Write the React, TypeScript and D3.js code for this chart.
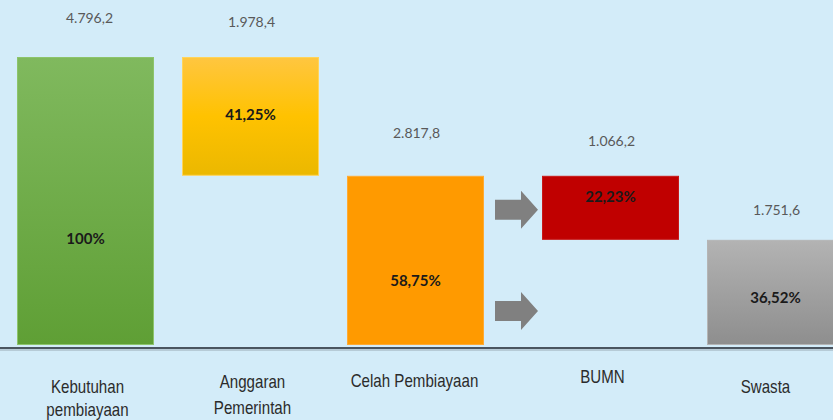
import React from "react";
import * as d3 from "d3";

const categories = ["Kebutuhan pembiayaan", "Anggaran Pemerintah", "Celah Pembiayaan", "BUMN", "Swasta"];
const categoryLines = [["Kebutuhan", "pembiayaan"], ["Anggaran", "Pemerintah"], ["Celah Pembiayaan"], ["BUMN"], ["Swasta"]];
const values = [4796.2, 1978.4, 2817.8, 1066.2, 1751.6];
const valueLabels = ["4.796,2", "1.978,4", "2.817,8", "1.066,2", "1.751,6"];
const percentLabels = ["100%", "41,25%", "58,75%", "22,23%", "36,52%"];
// waterfall: floating bars
const barBases = [0, 4796.2 - 1978.4, 0, 1751.6, 0];

// layout config (not data)
const pctFrac = [0.63, 0.49, 0.62, 0.33, 0.55];
const valDy = [-39, -35, -43, -35, -30];
const catBaselines = [[393, 416], [388, 414], [387], [383], [393]];
const catDx = [2, 2, -1, -8, -10];

const W = 833;
const H = 420;
const baseY = 345;

export default function App() {
  const y = d3.scaleLinear().domain([0, 4796.2]).range([baseY, 57]);
  const bw = 137;
  const x = d3.scaleBand<string>().domain(categories).range([17, 17 + 4 * 165 + bw]).paddingInner(28 / 165).paddingOuter(0);
  const gapAfter = 30;
  const bx = (i: number) => (x(categories[i]) as number) + (i >= 3 ? gapAfter : 0);

  const fills = ["url(#gGreen)", "url(#gYellow)", "#FF9A00", "#C00000", "url(#gGray)"];
  const strokes = ["#8DC46C", "#FFD45A", "#FFAA33", "#C81818", "#B5B5B5"];

  const arrowPath = (x0: number, cy: number) => {
    const p = d3.path();
    p.moveTo(x0, cy - 10);
    p.lineTo(x0 + 26, cy - 10);
    p.lineTo(x0 + 26, cy - 19);
    p.lineTo(x0 + 43, cy);
    p.lineTo(x0 + 26, cy + 19);
    p.lineTo(x0 + 26, cy + 10);
    p.lineTo(x0, cy + 10);
    p.closePath();
    return p.toString();
  };

  const bumnTop = y(barBases[3] + values[3]);
  const bumnBot = y(barBases[3]);
  const arrowX = bx(2) + bw + 11;

  return (
    <svg width={W} height={H} style={{ position: "absolute", left: 0, top: 0 }} xmlns="http://www.w3.org/2000/svg">
      <defs>
        <linearGradient id="gGreen" x1="0" y1="0" x2="0" y2="1">
          <stop offset="0" stopColor="#80B95E" />
          <stop offset="1" stopColor="#5F9F35" />
        </linearGradient>
        <linearGradient id="gYellow" x1="0" y1="0" x2="0" y2="1">
          <stop offset="0" stopColor="#FFC640" />
          <stop offset="0.5" stopColor="#FFC200" />
          <stop offset="1" stopColor="#EBB800" />
        </linearGradient>
        <linearGradient id="gGray" x1="0" y1="0" x2="0" y2="1">
          <stop offset="0" stopColor="#B3B3B3" />
          <stop offset="1" stopColor="#8E8E8E" />
        </linearGradient>
      </defs>
      <rect x={0} y={0} width={W} height={H} fill="#D3ECF9" />

      {values.map((v, i) => {
        const top = y(barBases[i] + v);
        const bot = y(barBases[i]);
        return (
          <rect key={"b" + i} x={bx(i) + 0.5} y={top + 0.5} width={bw - 1} height={bot - top - 1}
            fill={fills[i]} stroke={strokes[i]} strokeWidth={1} />
        );
      })}

      <path d={arrowPath(arrowX, (bumnTop + bumnBot) / 2 + 2)} fill="#808080" />
      <path d={arrowPath(arrowX, baseY - 34)} fill="#808080" />

      <line x1={0} x2={W} y1={348} y2={348} stroke="#4A5560" strokeWidth={2} />
      <line x1={0} x2={W} y1={350} y2={350} stroke="#9AAAB5" strokeWidth={1} />

      {values.map((v, i) => {
        const top = y(barBases[i] + v);
        const bot = y(barBases[i]);
        const cx = bx(i) + bw / 2;
        return (
          <g key={"t" + i}>
            <text x={cx + (i === 0 ? 4 : 1)} y={top + valDy[i]} dy="0.35em" textAnchor="middle"
              fontFamily="Lato, 'Open Sans', sans-serif" fontSize={14} fill="#595959">{valueLabels[i]}</text>
            <text x={cx} y={top + (bot - top) * pctFrac[i]} dy="0.35em" textAnchor="middle"
              fontFamily="Lato, 'Open Sans', sans-serif" fontSize={15} fontWeight={700} fill="#1A1A1A">{percentLabels[i]}</text>
            {categoryLines[i].map((ln, j) => (
              <text key={j} transform={`translate(${cx + catDx[i]},${catBaselines[i][j]}) scale(0.84,1)`} textAnchor="middle"
                fontFamily="'Liberation Sans', Arial, sans-serif" fontSize={18} fill="#2B2B2B">{ln}</text>
            ))}
          </g>
        );
      })}
    </svg>
  );
}
